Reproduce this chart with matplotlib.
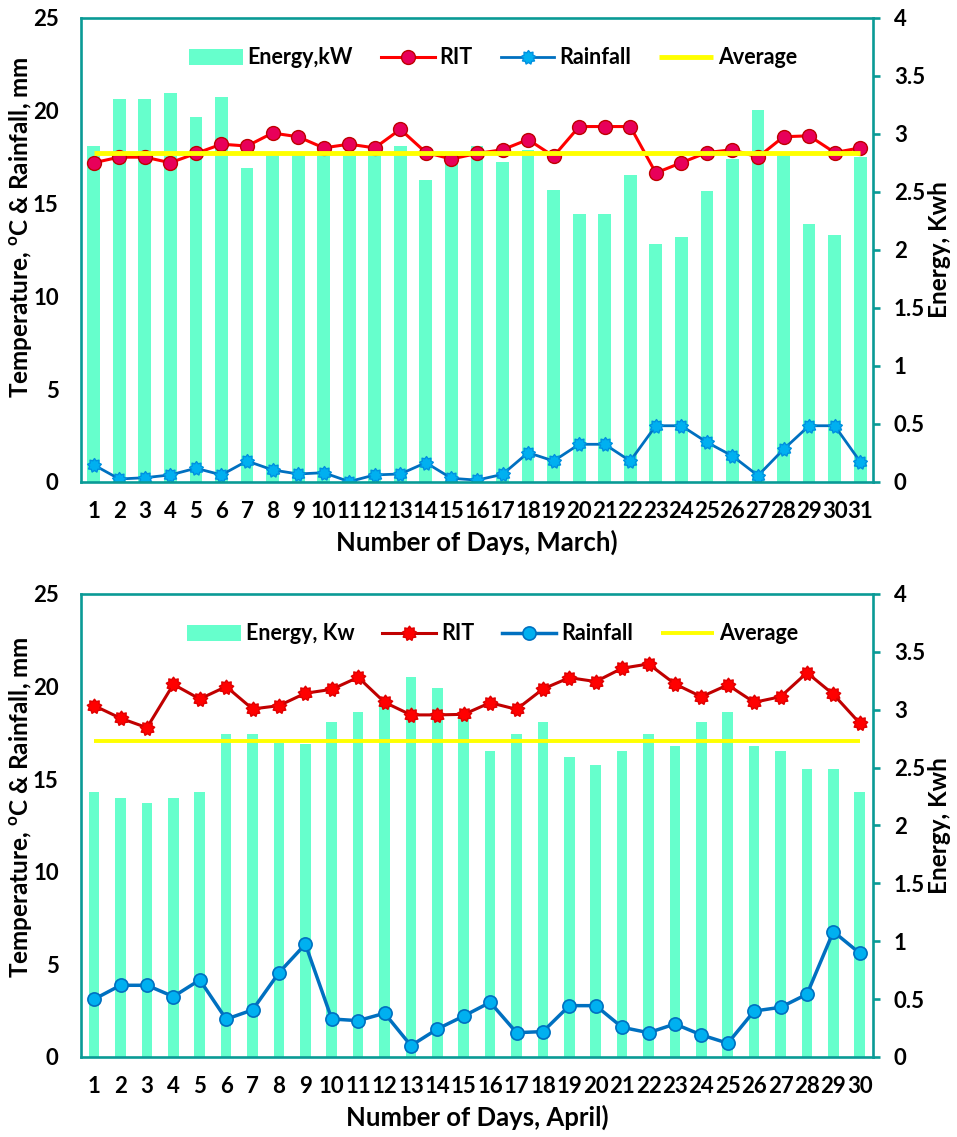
import matplotlib
matplotlib.use('Agg')
import matplotlib.pyplot as plt
from matplotlib.path import Path
from matplotlib.patches import Patch
from matplotlib.ticker import FuncFormatter

plt.rcParams['font.family'] = ['Lato', 'DejaVu Sans']
plt.rcParams['font.weight'] = 'bold'
plt.rcParams['mathtext.fontset'] = 'custom'
plt.rcParams['mathtext.rm'] = 'Lato:bold'
plt.rcParams['mathtext.bf'] = 'Lato:bold'

# ---------------- data ----------------
march_days = list(range(1, 32))
march_energy = [2.90, 3.30, 3.30, 3.35, 3.15, 3.32, 2.71, 2.82, 2.82, 2.82, 2.82, 2.82, 2.90,
                2.60, 2.78, 2.90, 2.76, 2.86, 2.52, 2.31, 2.31, 2.65, 2.05, 2.11, 2.51, 2.78,
                3.21, 2.82, 2.22, 2.13, 2.80]
march_rit = [17.2, 17.5, 17.5, 17.2, 17.7, 18.2, 18.1, 18.8, 18.6, 18.0, 18.2, 18.0, 19.0,
             17.75, 17.4, 17.7, 17.9, 18.45, 17.55, 19.15, 19.15, 19.15, 16.65, 17.2, 17.75,
             17.9, 17.5, 18.6, 18.65, 17.75, 18.0]
march_rain = [0.92, 0.16, 0.23, 0.38, 0.74, 0.38, 1.13, 0.65, 0.43, 0.50, 0.02, 0.38, 0.43,
              1.04, 0.20, 0.10, 0.41, 1.58, 1.13, 2.03, 2.03, 1.13, 3.03, 3.03, 2.14, 1.40,
              0.34, 1.76, 3.03, 3.03, 1.09]
march_avg = 17.7

april_days = list(range(1, 31))
april_energy = [2.29, 2.24, 2.19, 2.24, 2.29, 2.79, 2.79, 2.71, 2.70, 2.89, 2.98, 3.06, 3.28,
                3.19, 2.98, 2.64, 2.79, 2.89, 2.59, 2.52, 2.64, 2.79, 2.69, 2.89, 2.98, 2.69,
                2.64, 2.49, 2.49, 2.29]
april_rit = [18.97, 18.29, 17.78, 20.12, 19.33, 20.0, 18.79, 18.97, 19.64, 19.85, 20.5, 19.15,
             18.47, 18.47, 18.5, 19.13, 18.77, 19.87, 20.48, 20.27, 20.99, 21.22, 20.14, 19.45,
             20.09, 19.15, 19.45, 20.75, 19.58, 18.02]
april_rain = [3.12, 3.87, 3.87, 3.26, 4.16, 2.04, 2.54, 4.55, 6.09, 2.05, 1.96, 2.36, 0.61,
              1.51, 2.21, 2.95, 1.31, 1.37, 2.77, 2.77, 1.60, 1.31, 1.78, 1.19, 0.74, 2.48,
              2.68, 3.39, 6.77, 5.60]
april_avg = 17.06

left_ticks = [0, 5, 10, 15, 20, 25]
right_ticks = [0, 0.5, 1, 1.5, 2, 2.5, 3, 3.5, 4]

# ---------------- style ----------------
TEAL = '#0a9a96'
BAR = '#66ffcc'
blob = Path.unit_regular_star(9, 0.72)
TICK_FS = 16
LAB_FS = 17.5

fig = plt.figure(figsize=(9.57, 11.37), dpi=100)


def panel(rect, days, energy, rit, rain, avg, bar_w, energy_lbl, month_lbl,
          rit_style, rain_style, avg_lw, ylab_y):
    ax = fig.add_axes(rect)
    ax2 = ax.twinx()
    ax2.bar(days, energy, width=bar_w, color=BAR, zorder=1)
    ax.set_zorder(ax2.get_zorder() + 1)
    ax.patch.set_visible(False)

    l_rit, = ax.plot(days, rit, **rit_style)
    l_rain, = ax.plot(days, rain, **rain_style)
    l_avg, = ax.plot([days[0], days[-1]], [avg, avg], color='#ffff00', lw=avg_lw,
                     solid_capstyle='butt')

    ax.set_xlim(0.5, len(days) + 0.5)
    ax.set_ylim(0, 25)
    ax.set_yticks(left_ticks)
    ax2.set_ylim(0, 4)
    ax2.set_yticks(right_ticks)
    ax2.yaxis.set_major_formatter(FuncFormatter(lambda v, _: f'{v:g}'))
    ax.set_xticks(days)
    ax.set_xticklabels([str(d) for d in days])

    for s in ax.spines.values():
        s.set_color(TEAL)
        s.set_linewidth(1.9)
    for s in ax2.spines.values():
        s.set_visible(False)

    ax.tick_params(axis='both', length=0, labelsize=TICK_FS)
    ax.tick_params(axis='x', pad=14)
    ax.tick_params(axis='y', pad=16)
    ax2.tick_params(axis='y', length=5, width=1.9, color=TEAL, labelsize=TICK_FS, pad=10)

    ax.set_ylabel('Temperature, $^{\\mathbf{o}}$C & Rainfall, mm', fontsize=LAB_FS,
                  fontweight='bold')
    ax.yaxis.set_label_coords(-0.059, ylab_y)
    ax2.set_ylabel('Energy, Kwh', fontsize=LAB_FS, fontweight='bold', labelpad=2)
    ax.set_xlabel('Number of Days, ' + month_lbl + ')', fontsize=18.5, fontweight='bold',
                  labelpad=5)

    handles = [Patch(facecolor=BAR, edgecolor='none'), l_rit, l_rain, l_avg]
    labels = [energy_lbl, 'RIT', 'Rainfall', 'Average']
    ax.legend(handles, labels, ncol=4, loc='center', bbox_to_anchor=(0.52, 0.914),
              frameon=False, prop={'size': 15.5, 'weight': 'bold'}, handlelength=2.5,
              handleheight=0.75, handletextpad=0.22, columnspacing=1.3)
    return ax


panel([0.0846, 0.5761, 0.8276, 0.4081], march_days, march_energy, march_rit, march_rain,
      march_avg, 0.5, 'Energy,kW', 'March',
      dict(color='#ff0000', lw=2.2, marker='o', ms=10, mfc='#e8005a', mec='#c00000', mew=1),
      dict(color='#0070c0', lw=2.0, marker=blob, ms=10, mfc='#00b0f0', mec='#0090e0', mew=1),
      3.5, 0.55)

panel([0.0846, 0.0704, 0.8276, 0.4072], april_days, april_energy, april_rit, april_rain,
      april_avg, 0.4, 'Energy, Kw', 'April',
      dict(color='#c00000', lw=2.2, marker=blob, ms=10.5, mfc='#ff0000', mec='#e00000', mew=1),
      dict(color='#0070c0', lw=2.5, marker='o', ms=9.5, mfc='#00b0f0', mec='#0070c0', mew=1.2),
      2.8, 0.54)

fig.savefig('out.png', dpi=100)
